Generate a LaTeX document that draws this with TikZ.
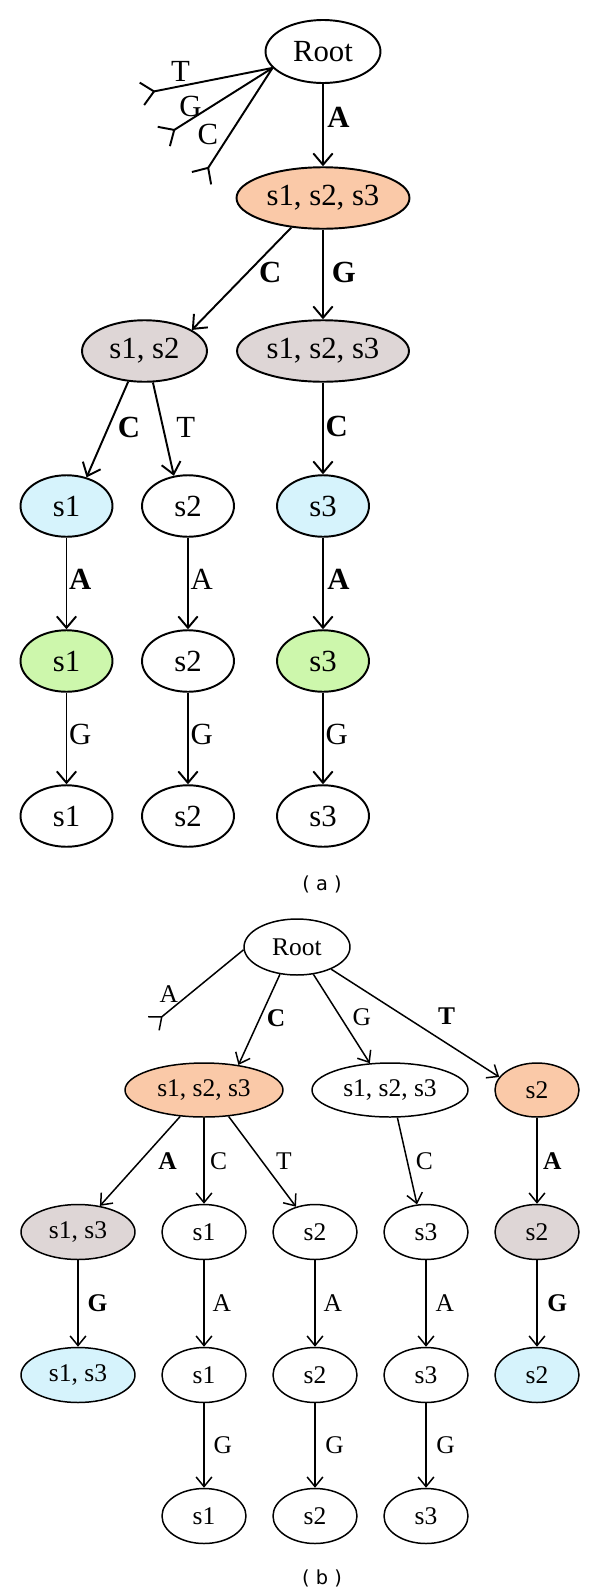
\documentclass[tikz,border=0pt]{standalone}
\usepackage{fontspec}
\setmainfont{Liberation Serif}
\newfontfamily\capfont{DejaVu Sans}
\usetikzlibrary{shapes.geometric,arrows.meta}
\definecolor{peach}{RGB}{250,201,168}
\definecolor{mauve}{RGB}{222,214,214}
\definecolor{icy}{RGB}{214,243,252}
\definecolor{leaf}{RGB}{205,247,172}
\def\sAll{s1, s2, s3}
\def\bA{\textbf{A}}
\def\bC{\textbf{C}}
\def\bG{\textbf{G}}
\def\bT{\textbf{T}}

\begin{document}
\begin{tikzpicture}[x=0.02cm, y=-0.02cm,
  nda/.style={ellipse, draw, line width=1.1pt, inner sep=1pt, minimum height=1.23cm, font=\fontsize{17.5}{20}\selectfont},
  ndb/.style={ellipse, draw, line width=0.85pt, inner sep=1pt, minimum height=1.1cm, font=\fontsize{14.5}{17}\selectfont},
  arra/.style={line width=1.1pt, -{Straight Barb[length=6.5pt, width=11pt]}},
  arrb/.style={line width=0.85pt, -{Straight Barb[length=5.5pt, width=9pt]}},
  stuba/.style={line width=1.1pt, -{Straight Barb[reversed, length=7pt, width=13pt]}},
  stubb/.style={line width=0.85pt, -{Straight Barb[reversed, length=6pt, width=10pt]}},
  laba/.style={inner sep=0pt, font=\fontsize{17.5}{20}\selectfont},
  labb/.style={inner sep=0pt, font=\fontsize{14.5}{17}\selectfont},
  figlab/.style={font=\capfont\fontsize{11}{13}\selectfont}]
\useasboundingbox (0,0) rectangle (600,1596);

\node[nda, minimum width=2.3cm, minimum height=1.26cm] (rootA) at (323,51.5) {Root};
\node[nda, fill=peach, minimum width=3.46cm] (oA) at (323,198) {\sAll};
\node[nda, fill=mauve, minimum width=2.5cm] (gA1) at (144.5,351) {s1, s2};
\node[nda, fill=mauve, minimum width=3.44cm] (gA2) at (323,351) {\sAll};
\node[nda, fill=icy, minimum width=1.84cm] (cA1) at (66.5,506) {s1};
\node[nda, minimum width=1.84cm] (wA2) at (188,506) {s2};
\node[nda, fill=icy, minimum width=1.84cm] (cA3) at (323,506) {s3};
\node[nda, fill=leaf, minimum width=1.84cm] (lA1) at (66.5,661) {s1};
\node[nda, minimum width=1.84cm] (wA4) at (188,661) {s2};
\node[nda, fill=leaf, minimum width=1.84cm] (lA3) at (323,661) {s3};
\node[nda, minimum width=1.84cm] (wA5) at (66.5,816) {s1};
\node[nda, minimum width=1.84cm] (wA6) at (188,816) {s2};
\node[nda, minimum width=1.84cm] (wA7) at (323,816) {s3};
\node[figlab] (capA) at (322,884) {( a )};

\coordinate (tA) at (141,94);
\coordinate (gA) at (163,137);
\coordinate (cA) at (201,179);
\draw[stuba] (rootA.198) -- node[laba, pos=0.7, above=2pt] {T} (tA);
\draw[stuba] (rootA.198) -- node[laba, pos=0.75, above=1pt] {G} (gA);
\draw[stuba] (rootA.198) -- node[laba, pos=0.6, left=6pt] {C} (cA);
\draw[arra] (rootA) -- node[laba, pos=0.4, right=2pt] {\bA} (oA);
\draw[arra] (oA.223) -- node[laba, pos=0.44, right=6pt] {\bC} (gA1.24);
\draw[arra] (oA) -- node[laba, pos=0.48, right=4.5pt] {\bG} (gA2);
\draw[arra] (gA1.242) -- node[laba, pos=0.48, right=5pt] {\bC} (cA1.55);
\draw[arra] (gA1.285) -- node[laba, pos=0.48, right=7pt] {T} (wA2.115);
\draw[arra] (gA2) -- node[laba, pos=0.48, right=1pt] {\bC} (cA3);
\draw[arra] (cA1) -- node[laba, pos=0.46, right=1pt] {\bA} (lA1);
\draw[arra] (wA2) -- node[laba, pos=0.46, right=1pt] {A} (wA4);
\draw[arra] (cA3) -- node[laba, pos=0.46, right=2pt] {\bA} (lA3);
\draw[arra] (lA1) -- node[laba, pos=0.46, right=1pt] {G} (wA5);
\draw[arra] (wA4) -- node[laba, pos=0.46, right=1pt] {G} (wA6);
\draw[arra] (lA3) -- node[laba, pos=0.46, right=1pt] {G} (wA7);

\node[ndb, minimum width=2.12cm, minimum height=1.12cm] (rootB) at (297,947) {Root};
\node[ndb, fill=peach, minimum width=3.16cm, minimum height=1.08cm] (oB) at (204,1090) {\sAll};
\node[ndb, minimum width=3.12cm, minimum height=1.08cm] (wB) at (390,1090) {\sAll};
\node[ndb, fill=peach, minimum width=1.68cm, minimum height=1.08cm] (oB2) at (537,1090) {s2};
\node[ndb, fill=mauve, minimum width=2.28cm] (gB1) at (78,1232) {s1, s3};
\node[ndb, minimum width=1.68cm] (wB1) at (204,1232) {s1};
\node[ndb, minimum width=1.68cm] (wB2) at (315,1232) {s2};
\node[ndb, minimum width=1.68cm] (wB3) at (426,1232) {s3};
\node[ndb, fill=mauve, minimum width=1.68cm] (gB2) at (537,1232) {s2};
\node[ndb, fill=icy, minimum width=2.28cm] (cB1) at (78,1375) {s1, s3};
\node[ndb, minimum width=1.68cm] (wB4) at (204,1375) {s1};
\node[ndb, minimum width=1.68cm] (wB5) at (315,1375) {s2};
\node[ndb, minimum width=1.68cm] (wB6) at (426,1375) {s3};
\node[ndb, fill=icy, minimum width=1.68cm] (cB2) at (537,1375) {s2};
\node[ndb, minimum width=1.68cm] (wB7) at (204,1516) {s1};
\node[ndb, minimum width=1.68cm] (wB8) at (315,1516) {s2};
\node[ndb, minimum width=1.68cm] (wB9) at (426,1516) {s3};
\node[figlab] (capB) at (322,1578) {( b )};

\coordinate (aB) at (153,1024);
\draw[stubb] (rootB.183) -- node[labb, pos=0.6, left=6pt] {A} (aB);
\draw[arrb] (rootB.238) -- node[labb, pos=0.48, right=3.5pt] {\bC} (oB.36);
\draw[arrb] (rootB.301) -- node[labb, pos=0.48, right=6.5pt] {G} (wB.127);
\draw[arrb] (rootB.327) -- node[labb, pos=0.6, anchor=south west, xshift=3pt, yshift=5pt] {\bT} (oB2.161);
\draw[arrb] (oB.228) -- node[labb, pos=0.5, right=10pt] {\bA} (gB1.50);
\draw[arrb] (oB) -- node[labb, pos=0.5, right=3pt] {C} (wB1);
\draw[arrb] (oB.313) -- node[labb, pos=0.5, right=7.5pt] {T} (wB2.127);
\draw[arrb] (wB.285) -- node[labb, pos=0.5, right=4.5pt] {C} (wB3.108);
\draw[arrb] (oB2) -- node[labb, pos=0.5, right=3pt] {\bA} (gB2);
\draw[arrb] (gB1) -- node[labb, right=5pt] {\bG} (cB1);
\draw[arrb] (wB1) -- node[labb, right=4.5pt] {A} (wB4);
\draw[arrb] (wB2) -- node[labb, right=4.5pt] {A} (wB5);
\draw[arrb] (wB3) -- node[labb, right=5pt] {A} (wB6);
\draw[arrb] (gB2) -- node[labb, right=5.5pt] {\bG} (cB2);
\draw[arrb] (wB4) -- node[labb, right=5pt] {G} (wB7);
\draw[arrb] (wB5) -- node[labb, right=5.5pt] {G} (wB8);
\draw[arrb] (wB6) -- node[labb, right=5.5pt] {G} (wB9);
\end{tikzpicture}
\end{document}
